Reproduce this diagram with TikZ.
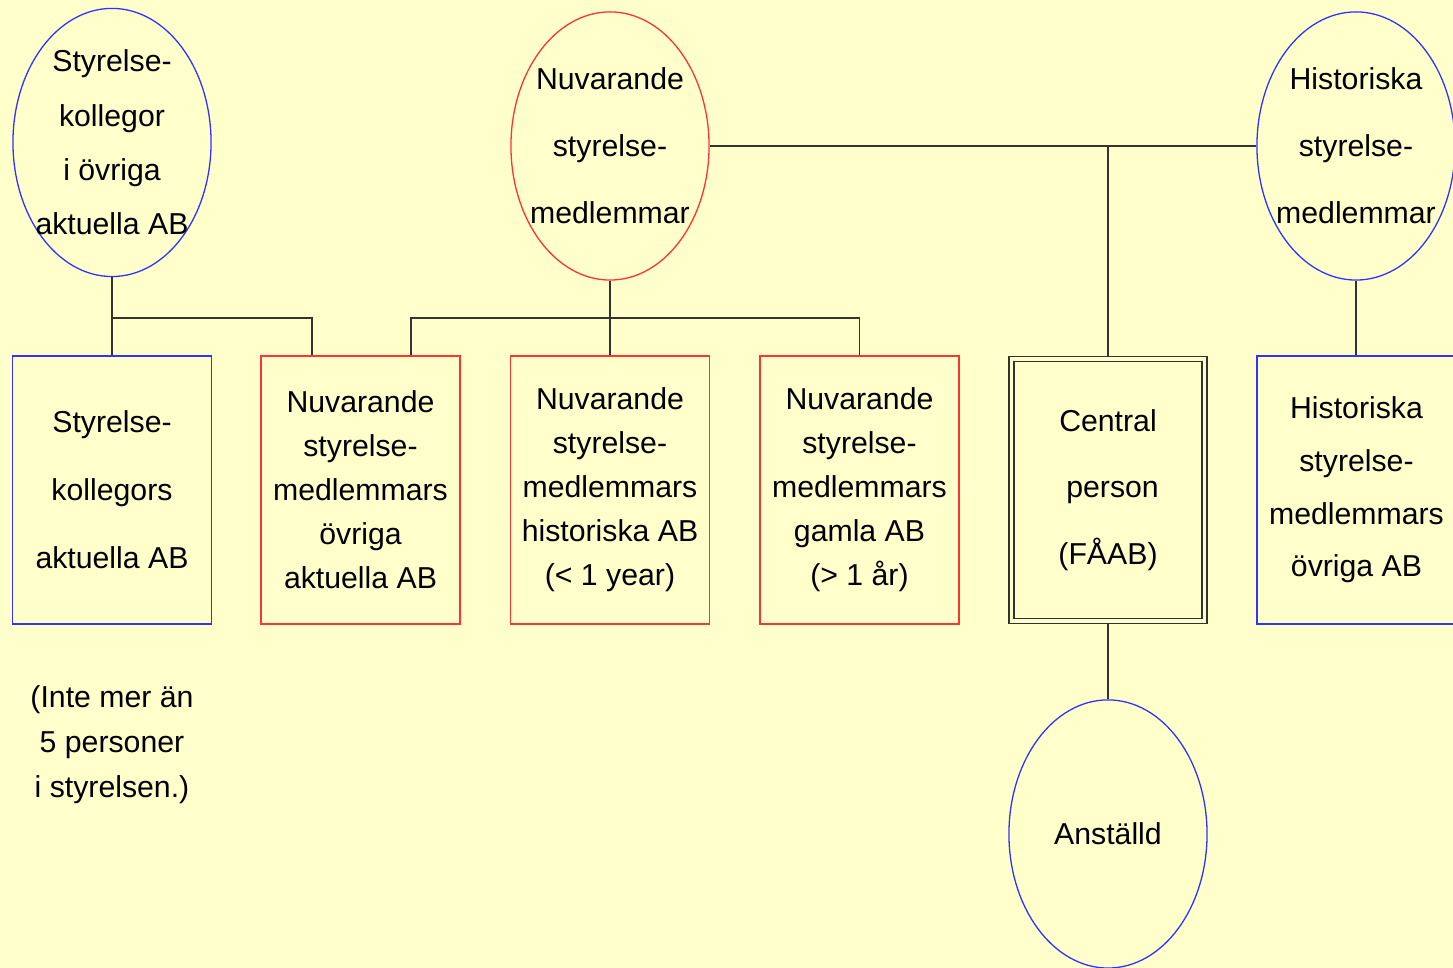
\documentclass[tikz,border=0pt]{standalone}
\usepackage{fontspec}
\setmainfont{Liberation Sans}
\usepackage{tikz}
\usetikzlibrary{calc}
\usetikzlibrary{shapes.geometric}
\definecolor{bgyellow}{HTML}{FFFFCC}
\definecolor{orgblue}{HTML}{3333FF}
\definecolor{orgred}{HTML}{FF3333}
\definecolor{orggray}{HTML}{333333}

\begin{document}
\begin{tikzpicture}[x=0.01cm, y=0.01cm,
  orgoval/.style={ellipse, draw=#1, line width=0.37pt, minimum width=1.98cm, minimum height=2.68cm, inner sep=0pt},
  orgbox/.style={rectangle, line width=0.4pt, minimum width=1.99cm, minimum height=2.68cm, inner sep=0pt, align=center, font=\fontsize{8.6}{#1}\selectfont},
  ovaltext/.style={align=center, inner sep=0pt, font=\fontsize{8.6}{#1}\selectfont},
  link/.style={draw=orggray, line width=0.4pt}]
\fill[bgyellow] (0,0) rectangle (1453,968);
\useasboundingbox (0,0) rectangle (1453,968);
\clip (0,0) rectangle (1453,968);

% top row
\node[orgoval=orgblue] (sk) at (112,825.5) {};
\node[ovaltext=15.45pt] at (sk) {Styrelse-\\kollegor\\i övriga\\aktuella AB};
\node[orgoval=orgred] (nm) at (610,822) {};
\node[ovaltext=19pt] at (nm) {Nuvarande\\styrelse-\\medlemmar};
\node[orgoval=orgblue] (hm) at (1356,822) {};
\node[ovaltext=19pt] at (hm) {Historiska\\styrelse-\\medlemmar};

% boxes
\node[orgbox=19.3pt, draw=orgblue] (skb) at (112,478) {Styrelse-\\kollegors\\aktuella AB};
\node[orgbox=12.5pt, draw=orgred] (nsa) at (360.5,478) {Nuvarande\\styrelse-\\medlemmars\\övriga\\aktuella AB};
\node[orgbox=12.5pt, draw=orgred] (nsh) at (610,478) {Nuvarande\\styrelse-\\medlemmars\\historiska AB\\(< 1 year)};
\node[orgbox=12.5pt, draw=orgred] (nsg) at (859.5,478) {Nuvarande\\styrelse-\\medlemmars\\gamla AB\\(> 1 år)};
\node[orgbox=18.9pt, draw=orggray, double=bgyellow, double distance=1pt, line width=0.45pt,
  minimum width=1.93cm, minimum height=2.62cm, outer sep=0.725pt] (cp) at (1108,478)
  {Central\\\hspace*{0.3em}person\\(FÅAB)};
\node[orgbox=15pt, draw=orgblue] (hsb) at (1356.5,478) {Historiska\\styrelse-\\medlemmars\\övriga AB};

% bottom
\node[orgoval=orgblue] (an) at (1108,134) {};
\node[ovaltext=12pt] at (an) {Anställd};
\node[ovaltext=12.8pt] (note) at (112,223) {(Inte mer än\\5 personer\\i styrelsen.)};

% connectors
\coordinate (jn) at (0,650);
\draw[link] (sk) -- (skb);
\draw[link] (sk.south |- jn) -| ($(nsa.north)+(-48.5,0)$);
\draw[link] (nm) -- (nsh);
\draw[link] ($(nsa.north)+(50.5,0)$) |- (jn -| nsg.north) -- (nsg.north);
\draw[link] (nm) -- (hm);
\draw[link] (nm -| cp.north) -- (cp.north);
\draw[link] (hm.south) -- (hm.south |- hsb.north);
\draw[link] (cp) -- (an);
\end{tikzpicture}
\end{document}
